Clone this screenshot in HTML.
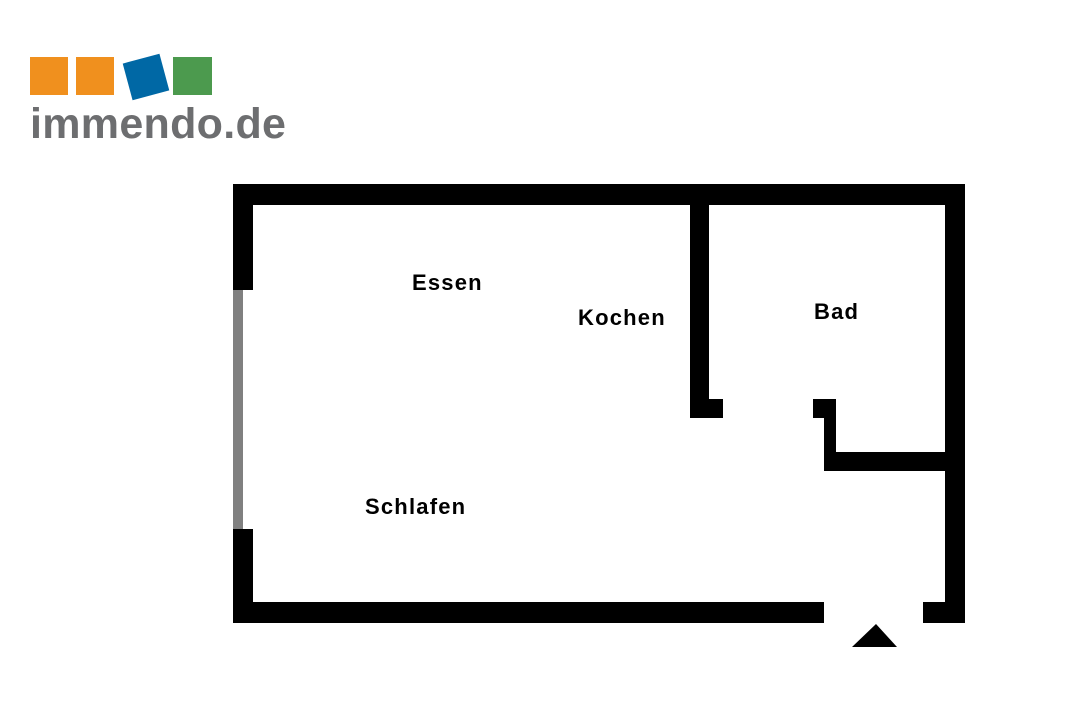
<!DOCTYPE html>
<html><head><meta charset="utf-8"><style>
body{margin:0;width:1080px;height:720px;background:#fff;position:relative;overflow:hidden;font-family:"Liberation Sans",sans-serif}
.b{position:absolute;background:#000}
.s{position:absolute}
.t{position:absolute;font-weight:bold;font-size:22px;color:#000;line-height:1;letter-spacing:1.2px}
</style></head><body>
<div class="s" style="left:30px;top:57px;width:38px;height:38px;background:#f0901e"></div>
<div class="s" style="left:76px;top:57px;width:38px;height:38px;background:#f0901e"></div>
<div class="s" style="left:127px;top:58px;width:38px;height:38px;background:#0068a5;transform:rotate(-15deg)"></div>
<div class="s" style="left:173px;top:57px;width:39px;height:38px;background:#4c9a4e"></div>
<div class="s" style="left:30px;top:103px;font-size:43px;font-weight:bold;color:#6d6e70;line-height:1;letter-spacing:0.3px">immendo.de</div>

<div class="b" style="left:233px;top:184px;width:732px;height:21px"></div>
<div class="b" style="left:233px;top:184px;width:20px;height:106px"></div>
<div class="s" style="left:233px;top:290px;width:10px;height:239px;background:#808080"></div>
<div class="b" style="left:233px;top:529px;width:20px;height:94px"></div>
<div class="b" style="left:233px;top:602px;width:591px;height:21px"></div>
<div class="b" style="left:945px;top:184px;width:20px;height:439px"></div>
<div class="b" style="left:923px;top:602px;width:42px;height:21px"></div>
<div class="b" style="left:690px;top:184px;width:19px;height:234px"></div>
<div class="b" style="left:690px;top:399px;width:33px;height:19px"></div>
<div class="b" style="left:813px;top:399px;width:23px;height:19px"></div>
<div class="b" style="left:824px;top:399px;width:12px;height:72px"></div>
<div class="b" style="left:824px;top:452px;width:125px;height:19px"></div>
<svg style="position:absolute;left:0;top:0" width="1080" height="720"><polygon points="876,624 897,647 852,647" fill="#000"/></svg>

<div class="t" style="left:412px;top:272px">Essen</div>
<div class="t" style="left:578px;top:307px">Kochen</div>
<div class="t" style="left:814px;top:301px">Bad</div>
<div class="t" style="left:365px;top:496px">Schlafen</div>
</body></html>
